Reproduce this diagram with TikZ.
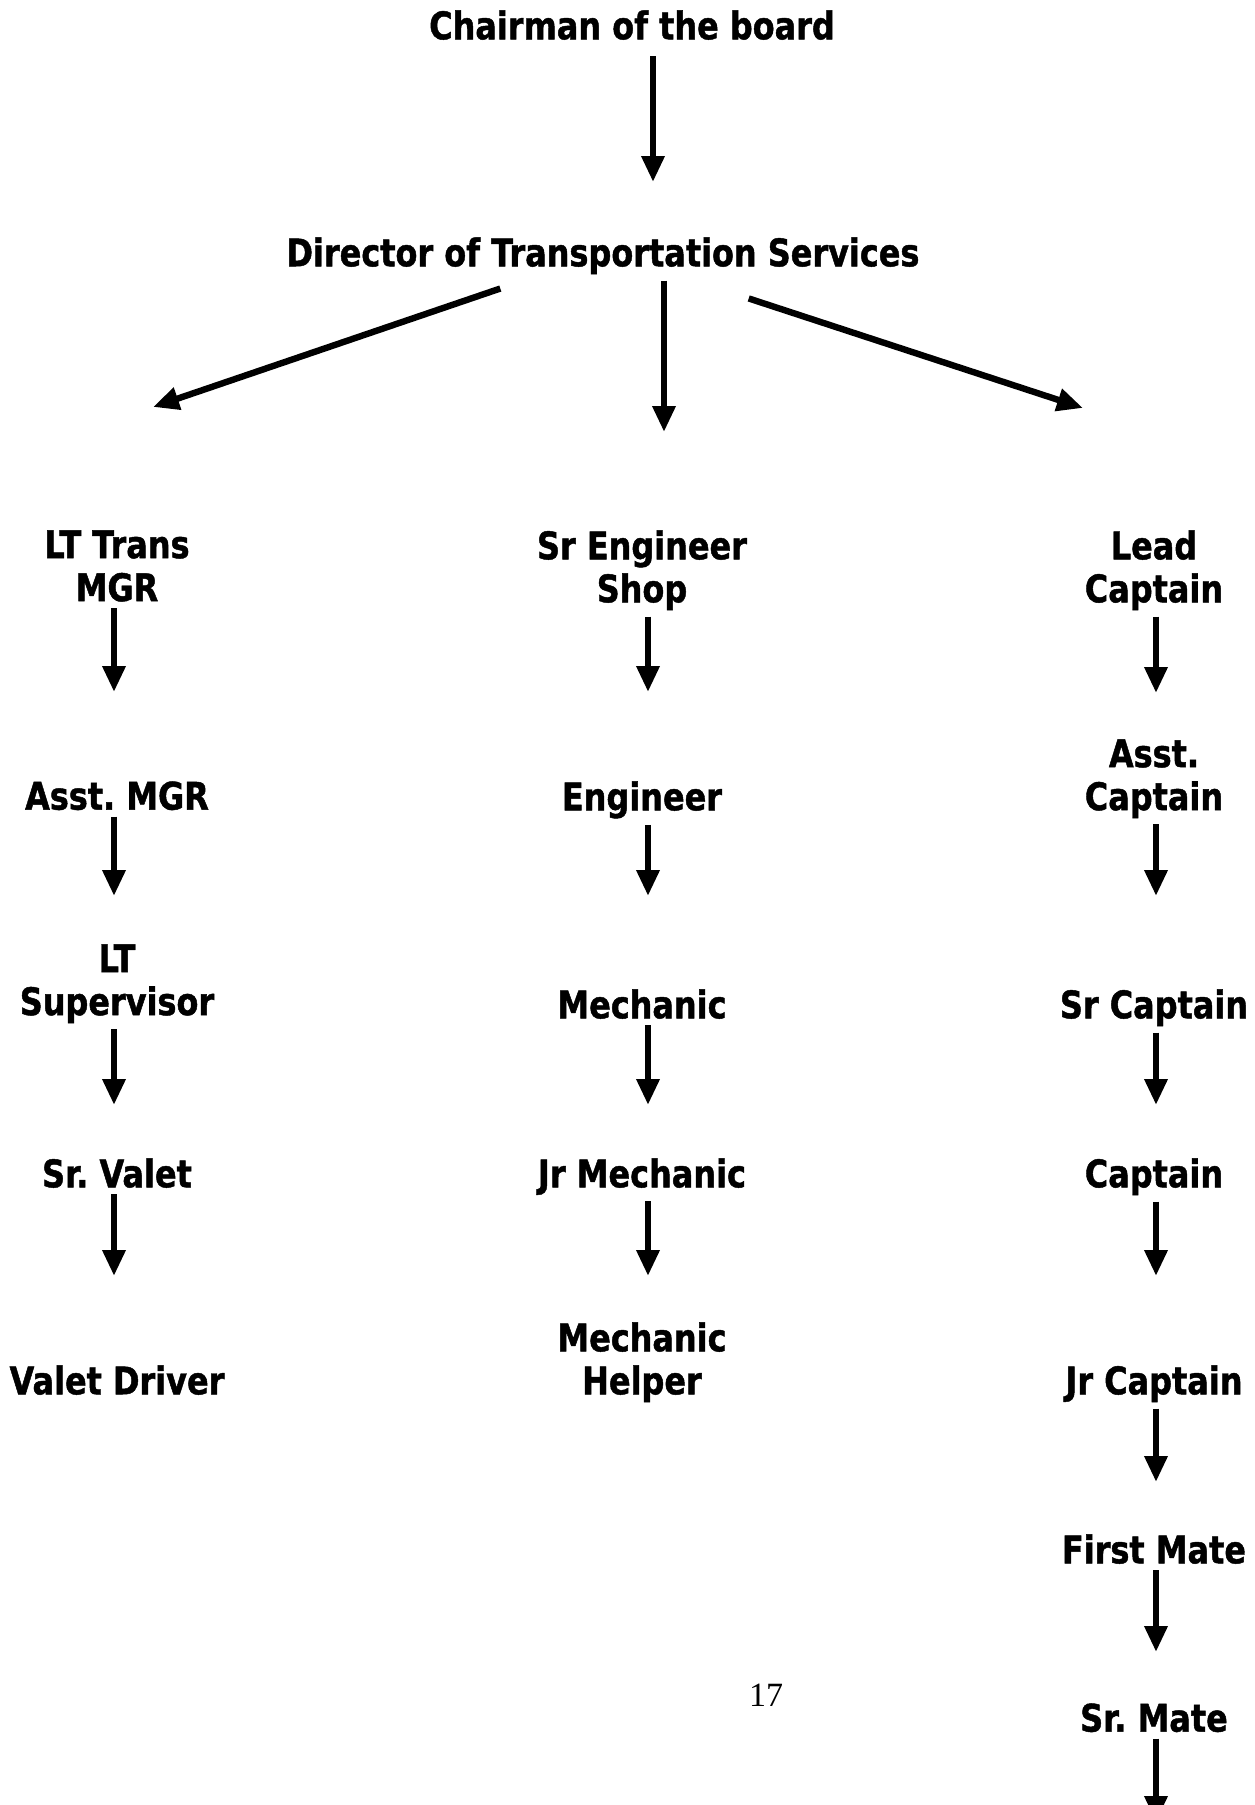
\documentclass[tikz,border=0pt]{standalone}
\usepackage{fontspec}
\newfontfamily\orgfont{DejaVu Sans}[FakeStretch=0.84,BoldFeatures={FakeBold=1.2}]
\newfontfamily\pagefont{Liberation Serif}
\usetikzlibrary{arrows.meta}
\tikzset{
  >={Triangle[length=13pt,width=11pt]},
  post/.style={anchor=north,align=center,inner sep=0pt,
    font=\orgfont\bfseries\fontsize{19}{21.5}\selectfont\frenchspacing},
  flow/.style={->,line width=3.2pt,shorten <=3pt},
  pgno/.style={font=\pagefont\fontsize{17}{20}\selectfont,inner sep=0pt},
}
\begin{document}
\begin{tikzpicture}[x=0.5pt,y=-0.5pt]
  \useasboundingbox (0,0) rectangle (1254,1805);
  \clip (0,0) rectangle (1254,1805);
  % top of the chart
  \node[post] (chair) at (632,10) {Chairman of the board};
  \node[post] (dir) at (603,237) {Director of Transportation Services};
  % left column
  \node[post] (ltmgr) at (117,530) {LT Trans\\MGR};
  \node[post] (asstmgr) at (117,781) {Asst. MGR};
  \node[post] (ltsup) at (117,944) {LT\\Supervisor};
  \node[post] (srvalet) at (117,1158) {Sr. Valet};
  \node[post] (valet) at (117,1365) {Valet Driver};
  % middle column
  \node[post] (srengr) at (642,530) {Sr Engineer\\Shop};
  \node[post] (engr) at (642,781) {Engineer};
  \node[post] (mech) at (642,989) {Mechanic};
  \node[post] (jrmech) at (642,1158) {Jr Mechanic};
  \node[post] (mechhelp) at (642,1322) {Mechanic\\Helper};
  % right column
  \node[post] (leadcpt) at (1154,530) {Lead\\Captain};
  \node[post] (asstcpt) at (1154,739) {Asst.\\Captain};
  \node[post] (srcpt) at (1154,989) {Sr Captain};
  \node[post] (cpt) at (1154,1158) {Captain};
  \node[post] (jrcpt) at (1154,1365) {Jr Captain};
  \node[post] (firstmate) at (1154,1534) {First Mate};
  \node[post] (srmate) at (1154,1703) {Sr. Mate};
  \node[pgno] (pg) at (766,1695) {17};
  % the three branches
  \coordinate (tip-l) at (153,407);
  \coordinate (tip-m) at (664,432);
  \coordinate (tip-r) at (1083,408);
  \draw[flow] ([xshift=-48.5pt,yshift=-6pt]dir.south) -- (tip-l);
  \draw[flow] (dir.south -| tip-m) -- (tip-m);
  \draw[flow] ([xshift=70pt,yshift=-11pt]dir.south) -- (tip-r);
  % straight down arrows
  \coordinate (tip-chair) at (653,182);
  \draw[flow,shorten <=8pt] (chair.south -| tip-chair) -- (tip-chair);
  \foreach \a/\x/\y in {ltmgr/114/692, asstmgr/114/896,
      ltsup/114/1105, srvalet/114/1276, srengr/648/692, engr/648/896,
      mech/648/1105, jrmech/648/1276, leadcpt/1156/693, asstcpt/1156/896,
      srcpt/1156/1105, cpt/1156/1276, jrcpt/1156/1482, firstmate/1156/1652,
      srmate/1156/1822}{
    \coordinate (tip-\a) at (\x,\y);
    \draw[flow] (\a.south -| tip-\a) -- (tip-\a);
  }
\end{tikzpicture}
\end{document}
